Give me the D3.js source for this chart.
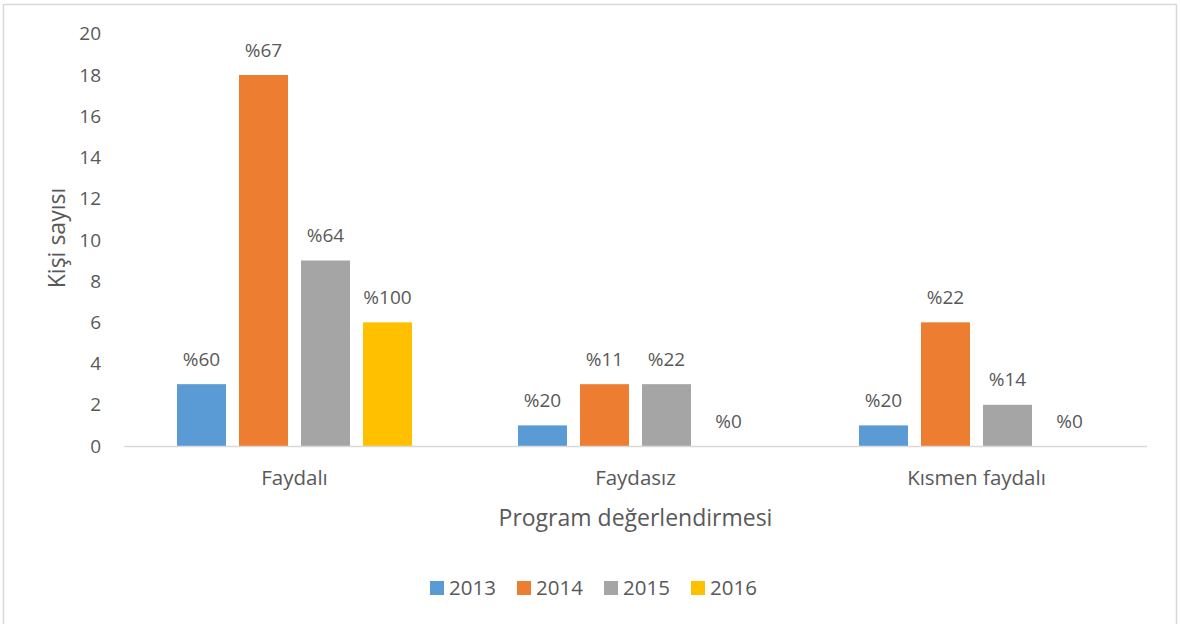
<!DOCTYPE html>
<html><head><meta charset="utf-8">
<script src="https://cdn.jsdelivr.net/npm/d3@7"></script>
<style>html,body{margin:0;padding:0;background:#fff;overflow:hidden}svg{display:block}text{font-family:"Open Sans",Lato,sans-serif;fill:#595959}</style>
</head><body>
<script>
const categories = ["Faydalı", "Faydasız", "Kısmen faydalı"];
const series = ["2013", "2014", "2015", "2016"];
const values2013 = [3, 1, 1];
const values2014 = [18, 3, 6];
const values2015 = [9, 3, 2];
const values2016 = [6, 0, 0];
const labels2013 = ["%60", "%20", "%20"];
const labels2014 = ["%67", "%11", "%22"];
const labels2015 = ["%64", "%22", "%14"];
const labels2016 = ["%100", "%0", "%0"];
const yTicks = [0, 2, 4, 6, 8, 10, 12, 14, 16, 18, 20];
const colors = ["#5b9bd5", "#ed7d31", "#a5a5a5", "#ffc000"];

const allValues = [values2013, values2014, values2015, values2016];
const allLabels = [labels2013, labels2014, labels2015, labels2016];

const W = 1180, H = 624;
const svg = d3.select("body").append("svg").attr("width", W).attr("height", H);
svg.append("rect").attr("x", 3.5).attr("y", 4.5).attr("width", 1173).attr("height", 640)
  .attr("fill", "#fff").attr("stroke", "#d9d9d9").attr("stroke-width", 1.5);

const plotL = 124, plotR = 1147, plotT = 33.8, plotB = 446;
const x0 = d3.scaleBand().domain(categories).range([plotL, plotR]).paddingInner(0).paddingOuter(0);
const y = d3.scaleLinear().domain([0, 20]).range([plotB, plotT]);
const bandW = x0.bandwidth();
const groupW = 235;
const x1 = d3.scaleBand().domain(series).range([0, groupW]).paddingInner(0.21).paddingOuter(0);

// y tick labels
svg.append("g").selectAll("text").data(yTicks).join("text")
  .attr("x", 101).attr("y", d => y(d)).attr("dy", "0.35em").attr("text-anchor", "end")
  .style("font-size", "19px").text(d => d);

// bars
const g = svg.append("g");
series.forEach((s, si) => {
  categories.forEach((c, ci) => {
    const v = allValues[si][ci];
    const bx = x0(c) + (bandW - groupW) / 2 + x1(s);
    if (v > 0) {
      g.append("rect").attr("x", bx).attr("y", y(v)).attr("width", x1.bandwidth())
        .attr("height", y(0) - y(v)).attr("fill", colors[si]);
    }
    g.append("text").attr("x", bx + x1.bandwidth() / 2).attr("y", y(v) - 25).attr("dy", "0.35em")
      .attr("text-anchor", "middle").style("font-size", "19px").text(allLabels[si][ci]);
  });
});

// axis line
svg.append("line").attr("x1", plotL).attr("x2", plotR).attr("y1", plotB + 0.5).attr("y2", plotB + 0.5)
  .attr("stroke", "#d9d9d9").attr("stroke-width", 1.5);

// category labels
svg.append("g").selectAll("text").data(categories).join("text")
  .attr("x", d => x0(d) + bandW / 2).attr("y", 478).attr("dy", "0.35em").attr("text-anchor", "middle")
  .style("font-size", "20.5px").text(d => d);

// axis titles
svg.append("text").attr("x", 635.5).attr("y", 518).attr("dy", "0.35em").attr("text-anchor", "middle")
  .style("font-size", "23px").text("Program değerlendirmesi");
svg.append("text").attr("transform", "translate(57,238) rotate(-90)").attr("dy", "0.35em")
  .attr("text-anchor", "middle").style("font-size", "23px").text("Kişi sayısı");

// legend
const lg = svg.append("g");
series.forEach((s, i) => {
  const lx = 430 + i * 87;
  lg.append("rect").attr("x", lx).attr("y", 581).attr("width", 14).attr("height", 14).attr("fill", colors[i]);
  lg.append("text").attr("x", lx + 19).attr("y", 588).attr("dy", "0.35em").style("font-size", "20.5px").text(s);
});
</script>
</body></html>
